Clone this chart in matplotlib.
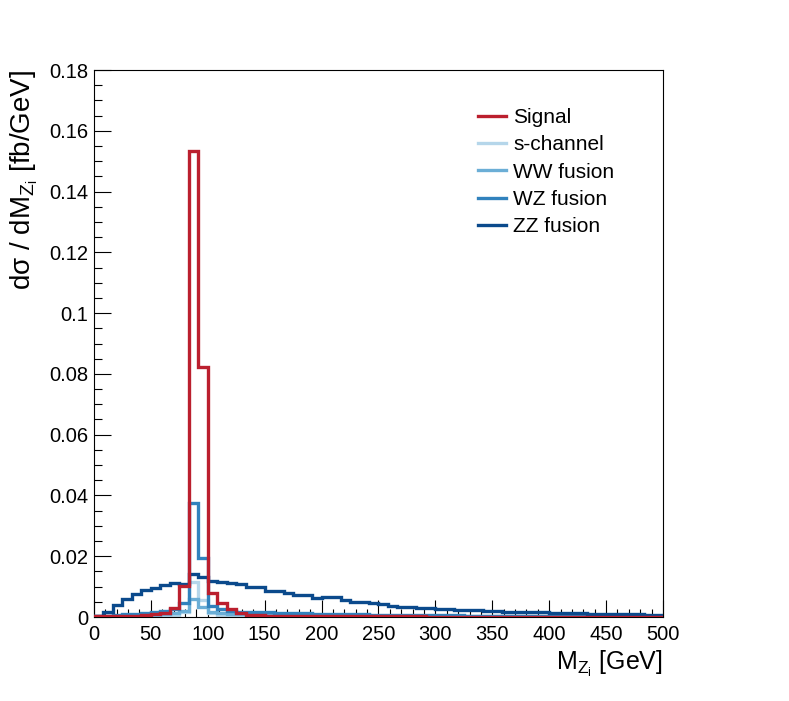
import numpy as np
import matplotlib
matplotlib.use('Agg')
import matplotlib.pyplot as plt
from matplotlib.ticker import MultipleLocator
from matplotlib.lines import Line2D

plt.rcParams['font.family'] = ['Liberation Sans', 'DejaVu Sans']
plt.rcParams['mathtext.fontset'] = 'custom'
plt.rcParams['mathtext.rm'] = 'Liberation Sans'
plt.rcParams['mathtext.it'] = 'Liberation Sans'

# 60 bins of M_Zi between 0 and 500 GeV
edges = np.linspace(0, 500, 61)

signal = [0.0002, 0.0003, 0.0003, 0.0004, 0.0005, 0.0007, 0.0009, 0.0013, 0.0030, 0.0103,
          0.1535, 0.0823, 0.0078, 0.0045, 0.0025, 0.0013, 0.0008, 0.0006, 0.0005, 0.0004,
          0.0004, 0.0003, 0.0003, 0.0003, 0.0003, 0.0002, 0.0002, 0.0002, 0.0002, 0.0002,
          0.0002, 0.0002, 0.0002, 0.0002, 0.0002, 0.0001, 0.0001, 0.0001, 0.0001, 0.0001,
          0.0001, 0.0001, 0.0001, 0.0001, 0.0001, 0.0001, 0.0001, 0.0001, 0.0001, 0.0001,
          0.0001, 0.0001, 0.0001, 0.0001, 0.0001, 0.0001, 0.0001, 0.0001, 0.0001, 0.0001]

s_channel = [0.0001, 0.0002, 0.0002, 0.0003, 0.0003, 0.0004, 0.0005, 0.0006, 0.0008, 0.0015,
             0.0115, 0.0055, 0.0012, 0.0006, 0.0004, 0.0003, 0.0003, 0.0002, 0.0002, 0.0002,
             0.0002, 0.0002, 0.0001, 0.0001, 0.0001, 0.0001, 0.0001, 0.0001, 0.0001, 0.0001,
             0.0001, 0.0001, 0.0001, 0.0001, 0.0001, 0.0001, 0.0001, 0.0001, 0.0001, 0.0001,
             0.0001, 0.0001, 0.0001, 0.0001, 0.0001, 0.0001, 0.0001, 0.0001, 0.0001, 0.0001,
             0.0001, 0.0001, 0.0001, 0.0001, 0.0001, 0.0001, 0.0001, 0.0001, 0.0001, 0.0001]

ww_fusion = [0.0002, 0.0003, 0.0004, 0.0005, 0.0006, 0.0007, 0.0008, 0.0010, 0.0012, 0.0020,
             0.0060, 0.0034, 0.0015, 0.0012, 0.0010, 0.0009, 0.0009, 0.0008, 0.0008, 0.0007,
             0.0007, 0.0007, 0.0006, 0.0006, 0.0006, 0.0005, 0.0005, 0.0005, 0.0005, 0.0004,
             0.0004, 0.0004, 0.0004, 0.0004, 0.0003, 0.0003, 0.0003, 0.0003, 0.0003, 0.0003,
             0.0003, 0.0002, 0.0002, 0.0002, 0.0002, 0.0002, 0.0002, 0.0002, 0.0002, 0.0002,
             0.0002, 0.0002, 0.0002, 0.0001, 0.0001, 0.0001, 0.0001, 0.0001, 0.0001, 0.0001]

wz_fusion = [0.0004, 0.0005, 0.0007, 0.0009, 0.0011, 0.0013, 0.0016, 0.0019, 0.0027, 0.0045,
             0.0375, 0.0195, 0.0036, 0.0027, 0.0021, 0.0018, 0.0017, 0.0016, 0.0015, 0.0014,
             0.0013, 0.0013, 0.0012, 0.0011, 0.0011, 0.0010, 0.0010, 0.0009, 0.0009, 0.0008,
             0.0008, 0.0008, 0.0007, 0.0007, 0.0007, 0.0006, 0.0006, 0.0006, 0.0006, 0.0005,
             0.0005, 0.0005, 0.0005, 0.0005, 0.0004, 0.0004, 0.0004, 0.0004, 0.0004, 0.0004,
             0.0003, 0.0003, 0.0003, 0.0003, 0.0003, 0.0003, 0.0003, 0.0003, 0.0003, 0.0003]

zz_fusion = [0.0005, 0.0018, 0.0038, 0.0058, 0.0075, 0.0088, 0.0097, 0.0105, 0.0112, 0.0110,
             0.0142, 0.0133, 0.0119, 0.0115, 0.0112, 0.0109, 0.0100, 0.0100, 0.0087, 0.0087,
             0.0078, 0.0072, 0.0072, 0.0064, 0.0067, 0.0066, 0.0056, 0.0050, 0.0050, 0.0045,
             0.0044, 0.0036, 0.0034, 0.0034, 0.0031, 0.0029, 0.0027, 0.0025, 0.0023, 0.0023,
             0.0022, 0.0021, 0.0020, 0.0018, 0.0018, 0.0017, 0.0016, 0.0015, 0.0014, 0.0013,
             0.0013, 0.0012, 0.0011, 0.0011, 0.0010, 0.0010, 0.0009, 0.0009, 0.0008, 0.0008]

labels = ['Signal', 's-channel', 'WW fusion', 'WZ fusion', 'ZZ fusion']
colors = ['#bb1f2e', '#b5d6ea', '#6baed6', '#3182bd', '#0b4a8c']

fig = plt.figure(figsize=(7.89, 7.01), dpi=100)
ax = fig.add_axes([0.1191, 0.1198, 0.7212, 0.7803])

series = [signal, s_channel, ww_fusion, wz_fusion, zz_fusion]
# backgrounds first, signal on top
for vals, lab, col, z in zip(series, labels, colors, [6, 2, 3, 4, 5]):
    ax.stairs(vals, edges, color=col, lw=2.4, label=lab, zorder=z)

ax.set_xlim(0, 500)
ax.set_ylim(0, 0.18)
ax.xaxis.set_major_locator(MultipleLocator(50))
ax.xaxis.set_minor_locator(MultipleLocator(10))
ax.yaxis.set_minor_locator(MultipleLocator(0.005))
ax.set_yticks(np.arange(0, 0.181, 0.02))
ax.set_yticklabels(['0', '0.02', '0.04', '0.06', '0.08', '0.1', '0.12', '0.14', '0.16', '0.18'])

ax.tick_params(which='both', direction='in', top=False, right=False, labelsize=14.5, width=0.8)
ax.tick_params(which='major', length=12)
ax.tick_params(which='minor', length=6)
ax.tick_params(axis='x', pad=6)
ax.tick_params(axis='y', pad=4)
for s in ax.spines.values():
    s.set_linewidth(0.8)

ax.set_xlabel(r'M$_{Z_{i}}$ [GeV]', fontsize=18, loc='right')
ax.xaxis.set_label_coords(1.0, -0.058)
ax.set_ylabel(r'd$\sigma$ / dM$_{Z_{i}}$ [fb/GeV]', fontsize=20, loc='top')
ax.yaxis.set_label_coords(-0.095, 1.0)

leg_handles = [Line2D([], [], color=c, lw=2.4) for c in colors]
ax.legend(leg_handles, labels, loc='upper left', bbox_to_anchor=(0.642, 0.965),
          frameon=False, fontsize=15, handlelength=1.35, handletextpad=0.34,
          labelspacing=0.4)

fig.savefig('out.png', dpi=100)
